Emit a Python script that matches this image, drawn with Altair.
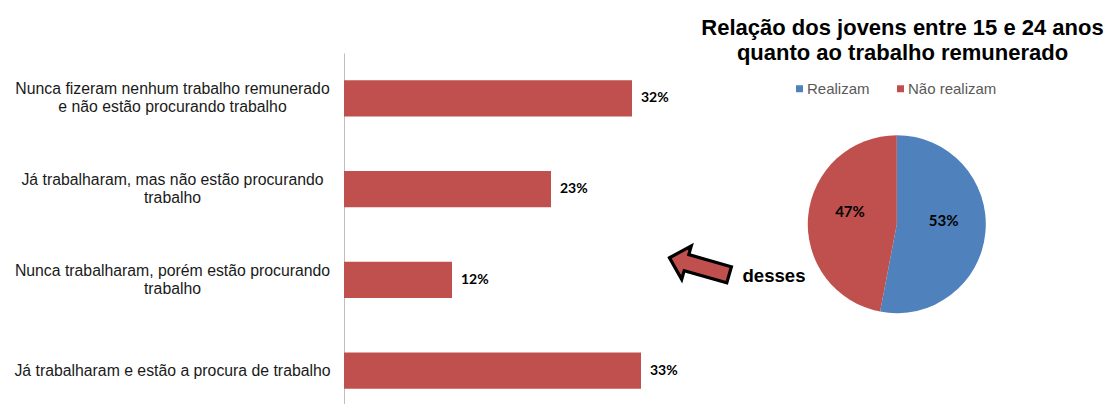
import altair as alt
import pandas as pd

# ---------------- data ----------------
CATEGORIES = [
    "Nunca fizeram nenhum trabalho remunerado\ne não estão procurando trabalho",
    "Já trabalharam, mas não estão procurando\ntrabalho",
    "Nunca trabalharam, porém estão procurando\ntrabalho",
    "Já trabalharam e estão a procura de trabalho",
]
BAR_VALUES = [32, 23, 12, 33]

PIE_LABELS = ["Realizam", "Não realizam"]
PIE_VALUES = [53, 47]

TITLE_LINES = ["Relação dos jovens  entre 15 e 24 anos", "quanto ao trabalho remunerado"]
ANNOTATION = "desses"

RED = "#C0504D"
BLUE = "#4F81BD"

bar_df = pd.DataFrame({"cat": CATEGORIES, "value": BAR_VALUES})
pie_df = pd.DataFrame({"cat": PIE_LABELS, "value": PIE_VALUES,
                       "idx": list(range(len(PIE_LABELS)))})
one = alt.Data(values=[{"k": 0}])

# ---------------- bar chart ----------------
y_enc = alt.Y(
    "cat:N",
    sort=CATEGORIES,
    scale=alt.Scale(range=[0, 363], paddingInner=0.6, paddingOuter=0.3),
    axis=alt.Axis(
        title=None, ticks=False, grid=False,
        domainColor="#BFBFBF", domainWidth=1,
        labelAlign="center", labelBaseline="middle", labelPadding=172,
        labelExpr="split(datum.label, '\\n')", labelLimit=500,
        labelOffset={"condition": {"test": "indexof(datum.value, '\\n') >= 0",
                                   "value": -9}, "value": 0},
        labelLineHeight=18, labelFont="Liberation Sans", labelFontSize=15.8,
        labelColor="#1a1a1a", labelOverlap=False,
    ),
)
x_enc = alt.X("value:Q", scale=alt.Scale(domain=[0, 761 / 9]), axis=None)

bars = alt.Chart(bar_df).mark_bar(color=RED).encode(x=x_enc, y=y_enc)

bar_labels = alt.Chart(bar_df).transform_calculate(
    lbl="datum.value + '%'"
).mark_text(
    align="left", baseline="middle", dx=9, font="Lato", fontWeight="bold",
    fontSize=14, color="#000000"
).encode(x=x_enc, y=y_enc, text="lbl:N")

# ---------------- pie chart ----------------
PX, PY = 552.8, 171.2

pie = alt.Chart(pie_df).mark_arc(outerRadius=89).encode(
    theta=alt.Theta("value:Q", stack=True),
    order=alt.Order("idx:Q"),
    color=alt.Color(
        "cat:N",
        scale=alt.Scale(domain=PIE_LABELS, range=[BLUE, RED]),
        sort=PIE_LABELS,
        legend=alt.Legend(
            title=None, orient="none", direction="horizontal",
            legendX=448, legendY=28, padding=0,
            symbolType="square", symbolSize=49, symbolStrokeWidth=0,
            labelFont="Liberation Sans", labelFontSize=15, labelColor="#595959",
            labelOffset=0, columnPadding=23,
        ),
    ),
    x=alt.value(PX), y=alt.value(PY),
)

pie_labels = alt.Chart(pie_df).transform_calculate(
    lbl="datum.value + '%'"
).mark_text(
    radius=47, font="Lato", fontWeight="bold", fontSize=15, color="#000000",
    align="center", baseline="middle", dy=-8
).encode(
    theta=alt.Theta("value:Q", stack=True),
    order=alt.Order("idx:Q"),
    text="lbl:N",
    x=alt.value(PX), y=alt.value(PY),
)

title = alt.Chart(one).mark_text(
    text=TITLE_LINES, font="Liberation Sans", fontWeight="bold", fontSize=22,
    lineHeight=25, align="center", baseline="alphabetic", color="#000000"
).encode(x=alt.value(558.5), y=alt.value(-18.5))

# ---------------- arrow + annotation ----------------
ARROW = ("M -1 0 L -0.43 -0.56 L -0.43 -0.27 L 1 -0.27 L 1 0.27 "
         "L -0.43 0.27 L -0.43 0.56 Z")
arrow = alt.Chart(one).mark_point(
    shape=ARROW, size=3844, angle=16, filled=True, fill=RED, stroke="#000000",
    strokeWidth=3.2, opacity=1, fillOpacity=1, strokeOpacity=1, strokeJoin="miter"
).encode(x=alt.value(355.3), y=alt.value(213.3))

desses = alt.Chart(one).mark_text(
    text=ANNOTATION, font="Liberation Sans", fontWeight="bold", fontSize=18.6,
    align="center", baseline="alphabetic", color="#000000"
).encode(x=alt.value(430), y=alt.value(229))

chart = alt.layer(
    bars, bar_labels, pie, pie_labels, title, arrow, desses
).properties(
    width=761, height=351,
    autosize=alt.AutoSizeParams(type="none"),
    padding={"left": 336, "top": 45, "right": 0, "bottom": 0},
    background="white",
).configure_view(stroke=None)

chart.save("out.html", embed_options={"renderer": "svg", "actions": False})
